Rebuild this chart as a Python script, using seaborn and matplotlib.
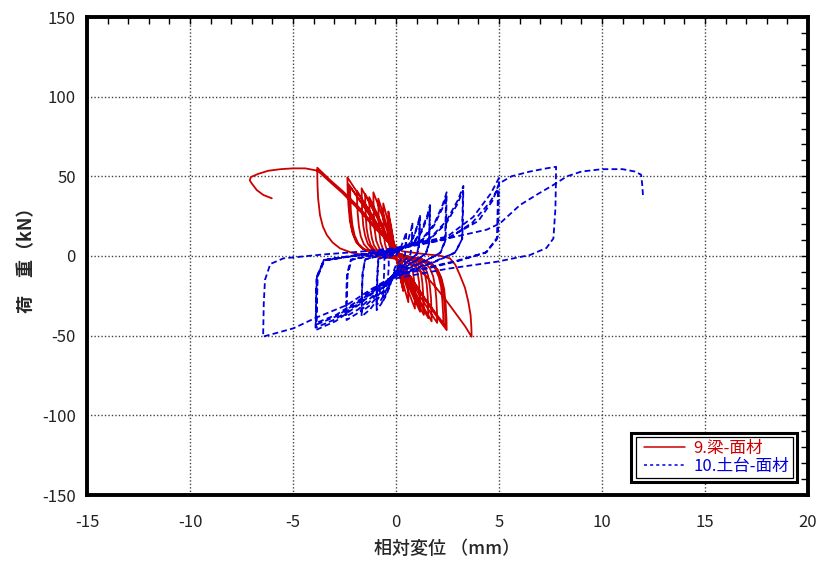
import matplotlib
matplotlib.use("Agg")
import matplotlib.pyplot as plt
from matplotlib.patches import Rectangle
from matplotlib.ticker import MultipleLocator
from matplotlib.lines import Line2D
import seaborn as sns
import pandas as pd

# ---- 9.梁-面材 : relative displacement (mm), load (kN) ----
red_stage1 = [
    (0.0, 0.0), (0.05, 3), (-0.11, 8.4), (-0.22, 17.4), (-0.31, 23.5), (-0.37, 28),
    (-0.37, 22.4), (-0.36, 13.2), (-0.32, 6.7), (-0.26, 2.5), (-0.15, 0.6), (0.0, -1),
    (0.11, -6.6), (0.21, -13.6), (0.29, -18.5), (0.35, -22),
    (0.35, -17.6), (0.34, -10.3), (0.3, -5.3), (0.25, -2), (0.14, -0.4), (0.05, 2),
    (-0.1, 7.5), (-0.21, 15.5), (-0.29, 21), (-0.35, 25),
    (-0.35, 20), (-0.34, 11.8), (-0.3, 6), (-0.25, 2.3), (-0.14, 0.5), (0.0, -1),
    (0.1, -6), (0.2, -12.4), (0.27, -16.8), (0.33, -20),
    (0.33, -16), (0.32, -9.4), (0.29, -4.8), (0.23, -1.8), (0.13, -0.4), (0.05, 2),
    (-0.19, 9.9), (-0.37, 20.5), (-0.51, 27.7), (-0.62, 33),
    (-0.61, 26.4), (-0.6, 15.5), (-0.54, 7.9), (-0.43, 3), (-0.25, 0.7), (0.0, -1),
    (0.18, -8.7), (0.36, -18), (0.5, -24.4), (0.6, -29),
    (0.59, -23.2), (0.58, -13.6), (0.52, -7), (0.42, -2.6), (0.24, -0.6), (0.05, 2),
    (-0.26, 10.8), (-0.52, 22.3), (-0.71, 30.2), (-0.86, 36),
    (-0.85, 28.8), (-0.83, 16.9), (-0.75, 8.6), (-0.6, 3.2), (-0.34, 0.7), (0.0, -1),
    (0.28, -9.9), (0.55, -20.5), (0.76, -27.7), (0.92, -33),
    (0.91, -26.4), (0.88, -15.5), (0.8, -7.9), (0.64, -3), (0.37, -0.7), (0.05, 2),
    (-0.33, 12), (-0.66, 24.8), (-0.91, 33.6), (-1.1, 40),
    (-1.09, 32), (-1.06, 18.8), (-0.96, 9.6), (-0.77, 3.6), (-0.44, 0.8), (0.0, -1),
    (0.35, -10.5), (0.7, -21.7), (0.97, -29.4), (1.17, -35),
    (1.16, -28), (1.12, -16.5), (1.02, -8.4), (0.82, -3.2), (0.47, -0.7), (0.05, 2),
]
red_stage2 = [
    (-0.39, 11.1), (-0.78, 22.9), (-1.08, 31.1), (-1.3, 37),
    (-1.29, 31.5), (-1.27, 24.1), (-1.24, 16.7), (-1.17, 11.1), (-1.07, 6.7),
    (-0.91, 3.7), (-0.65, 1.5), (-0.33, 0.4), (0.0, -1),
    (0.41, -11.1), (0.81, -22.9), (1.12, -31.1), (1.35, -37),
    (1.34, -31.5), (1.32, -24.1), (1.28, -16.7), (1.22, -11.1), (1.11, -6.7),
    (0.95, -3.7), (0.68, -1.5), (0.34, -0.4), (0.05, 2),
    (-0.45, 11.7), (-0.9, 24.2), (-1.25, 32.8), (-1.5, 39),
    (-1.49, 33.2), (-1.47, 25.4), (-1.43, 17.6), (-1.35, 11.7), (-1.23, 7),
    (-1.05, 3.9), (-0.75, 1.6), (-0.38, 0.4), (0.0, -1),
    (0.47, -11.7), (0.94, -24.2), (1.3, -32.8), (1.57, -39),
    (1.56, -33.2), (1.54, -25.4), (1.49, -17.6), (1.41, -11.7), (1.29, -7),
    (1.1, -3.9), (0.79, -1.6), (0.39, -0.4), (0.05, 2),
    (-0.5, 12.8), (-1.0, 26.4), (-1.39, 35.7), (-1.67, 42.5),
    (-1.66, 36.1), (-1.64, 27.6), (-1.59, 19.1), (-1.5, 12.8), (-1.37, 7.7),
    (-1.17, 4.3), (-0.84, 1.7), (-0.42, 0.4), (0.0, -1),
    (0.52, -12.3), (1.04, -25.4), (1.44, -34.4), (1.73, -41),
    (1.72, -34.9), (1.7, -26.7), (1.64, -18.5), (1.56, -12.3), (1.42, -7.4),
    (1.21, -4.1), (0.87, -1.6), (0.43, -0.4), (0.05, 2),
    (-0.57, 12.3), (-1.14, 25.4), (-1.58, 34.4), (-1.9, 41),
    (-1.89, 34.9), (-1.86, 26.7), (-1.8, 18.5), (-1.71, 12.3), (-1.56, 7.4),
    (-1.33, 4.1), (-0.95, 1.6), (-0.48, 0.4), (0.0, -1),
    (0.6, -12.6), (1.2, -26), (1.66, -35.3), (2.0, -42),
    (1.99, -35.7), (1.96, -27.3), (1.9, -18.9), (1.8, -12.6), (1.64, -7.6),
    (1.4, -4.2), (1.0, -1.7), (0.5, -0.4), (0.05, 2),
]
red_stage3 = [
    (-0.67, 13), (-1.34, 27), (-1.85, 36.5), (-2.23, 43.5),
    (-2.22, 37), (-2.19, 28.3), (-2.12, 19.6), (-2.01, 13), (-1.83, 7.8),
    (-1.56, 4.4), (-1.12, 1.7), (-0.56, 0.4), (0.0, -1),
    (0.69, -12.9), (1.38, -26.7), (1.91, -36.1), (2.3, -43),
    (2.29, -36.6), (2.25, -28), (2.19, -19.4), (2.07, -12.9), (1.89, -7.7),
    (1.61, -4.3), (1.15, -1.7), (0.58, -0.4), (0.05, 2),
    (-0.71, 14.8), (-1.42, 30.6), (-1.96, 41.5), (-2.36, 49.4),
    (-2.35, 42), (-2.31, 32.1), (-2.24, 22.2), (-2.12, 14.8), (-1.94, 8.9),
    (-1.65, 4.9), (-1.18, 2), (-0.59, 0.5), (0.0, -1),
    (0.74, -14), (1.48, -28.8), (2.04, -39.1), (2.46, -46.5),
    (2.45, -39.5), (2.41, -30.2), (2.34, -20.9), (2.21, -14), (2.02, -8.4),
    (1.72, -4.7), (1.23, -1.9), (0.62, -0.5), (0.05, 2),
    (-0.69, 13.5), (-1.38, 27.9), (-1.91, 37.8), (-2.3, 45),
    (-2.29, 38.3), (-2.25, 29.3), (-2.19, 20.3), (-2.07, 13.5), (-1.89, 8.1),
    (-1.61, 4.5), (-1.15, 1.8), (-0.58, 0.5), (0.0, -1),
    (0.72, -13.2), (1.44, -27.3), (1.99, -37), (2.4, -44),
    (2.39, -37.4), (2.35, -28.6), (2.28, -19.8), (2.16, -13.2), (1.97, -7.9),
    (1.68, -4.4), (1.2, -1.8), (0.6, -0.4), (0.05, 2),
]
red_stage4 = [
    (-0.29, 9), (-0.94, 17.4), (-1.75, 29.9), (-2.56, 40.4), (-3.2, 47.7),
    (-3.55, 52), (-3.82, 55.4),
    (-3.82, 50), (-3.81, 44), (-3.78, 36), (-3.69, 25.7), (-3.55, 18.5),
    (-3.36, 13.2), (-3.08, 8.5), (-2.72, 4.8), (-2.2, 2.3), (-1.59, 0.6),
    (-0.8, -0.6), (-0.13, -1.5),
    (0.84, -5.6), (1.45, -12.5), (1.97, -20.3), (2.5, -29), (2.95, -37),
    (3.35, -44), (3.67, -50.7),
    (3.66, -45), (3.62, -37), (3.51, -28.7), (3.35, -20), (3.1, -11.9),
    (2.88, -5.5), (2.62, -1.5), (2.1, 0.3), (1.5, 1), (0.3, 3),
    (-0.3, 9), (-1.0, 17), (-1.8, 29), (-2.6, 39.5), (-3.25, 47), (-3.8, 53.5),
    (-4.4, 55), (-5.0, 55), (-5.6, 54.5), (-6.2, 53.5), (-6.7, 51.5),
    (-7.05, 49.5), (-7.1, 47.5), (-7.0, 45.5), (-6.76, 41.4), (-6.44, 38.3), (-6.03, 36.2),
]

# ---- 10.土台-面材 : relative displacement (mm), load (kN) ----
blue_stage1 = [
    (0.0, 0.0), (0.25, 6), (0.4, 11), (0.5, 15),
    (0.48, 9.8), (0.45, 3.8), (0.44, 0.8), (0.3, -1.4), (0.0, -5.6),
    (-0.08, -8.4), (-0.18, -13), (-0.3, -17.6), (-0.4, -20),
    (-0.38, -12), (-0.35, -6), (-0.36, -1.2), (-0.12, 0.8), (0.0, 2.1),
    (0.4, 5.3), (0.6, 10.5), (0.74, 16.8), (0.8, 21),
    (0.78, 13.7), (0.75, 5.3), (0.7, 1), (0.48, -2), (0.0, -7.8),
    (-0.12, -11.8), (-0.28, -18.2), (-0.47, -24.6), (-0.62, -28),
    (-0.6, -16.8), (-0.57, -8.4), (-0.56, -1.7), (-0.19, 1), (0.0, 2.6),
    (0.59, 6.5), (0.88, 13), (1.08, 20.8), (1.17, 26),
    (1.15, 16.9), (1.12, 6.5), (1.03, 1.3), (0.7, -2.4), (0.0, -9.5),
    (-0.19, -14.3), (-0.42, -22.1), (-0.71, -29.9), (-0.94, -34),
    (-0.92, -20.4), (-0.89, -10.2), (-0.85, -2), (-0.28, 1), (0.0, 2.4),
    (0.58, 6), (0.86, 12), (1.06, 19.2), (1.15, 24),
    (1.13, 15.6), (1.1, 6), (1.01, 1.2), (0.69, -2.2), (0.0, -8.7),
    (-0.19, -13), (-0.43, -20.2), (-0.71, -27.3), (-0.95, -31),
]
blue_stage2 = [
    (-0.93, -18.6), (-0.9, -9.3), (-0.86, -1.9), (-0.29, 1.3), (0.0, 3.2),
    (0.83, 8), (1.24, 16), (1.52, 25.6), (1.65, 32),
    (1.63, 20.8), (1.6, 8), (1.45, 1.6), (0.99, -2.7), (0.0, -10.6),
    (-0.33, -16), (-0.75, -24.7), (-1.25, -33.4), (-1.67, -38),
    (-1.65, -22.8), (-1.62, -11.4), (-1.5, -2.3), (-0.5, 1.2), (0.0, 3),
    (0.83, 7.5), (1.24, 15), (1.52, 24), (1.65, 30),
    (1.63, 19.5), (1.6, 7.5), (1.45, 1.5), (0.99, -2.5), (0.0, -9.8),
    (-0.33, -14.7), (-0.75, -22.8), (-1.25, -30.8), (-1.67, -35),
    (-1.65, -21), (-1.62, -10.5), (-1.5, -2.1), (-0.5, 1.6), (0.0, 4),
    (1.23, 10), (1.85, 20), (2.26, 32), (2.46, 40),
    (2.44, 26), (2.41, 10), (2.16, 2), (1.48, -2.8), (0.0, -11.3),
    (-0.48, -16.9), (-1.08, -26.1), (-1.8, -35.4), (-2.4, -40.2),
    (-2.38, -24.1), (-2.35, -12.1), (-2.16, -2.4), (-0.72, 1.5), (0.0, 3.7),
    (1.22, 9.3), (1.82, 18.5), (2.24, 29.6), (2.43, 37),
    (2.41, 24), (2.38, 9.3), (2.14, 1.9), (1.46, -2.7), (0.0, -10.6),
    (-0.49, -16), (-1.09, -24.7), (-1.82, -33.4), (-2.43, -38),
]
blue_stage3 = [
    (-2.41, -22.8), (-2.38, -11.4), (-2.19, -2.3), (-0.73, 1.8), (0.0, 4.4),
    (1.64, 11), (2.45, 22), (3.01, 35.2), (3.27, 44),
    (3.25, 28.6), (3.22, 11), (2.88, 2.2), (1.96, -3.3), (0.0, -13),
    (-0.78, -19.5), (-1.76, -30.2), (-2.93, -40.9), (-3.9, -46.5),
    (-3.88, -27.9), (-3.85, -14), (-3.51, -2.8), (-1.17, 1.6), (0.0, 4.1),
    (1.63, 10.3), (2.44, 20.5), (2.99, 32.8), (3.25, 41),
    (3.23, 26.7), (3.2, 10.3), (2.86, 2.1), (1.95, -3), (0.0, -12),
    (-0.77, -18.1), (-1.73, -28), (-2.89, -37.8), (-3.85, -43),
    (-3.83, -25.8), (-3.8, -12.9), (-3.47, -2.6), (-1.16, 2), (0.0, 4.9),
    (2.5, 12.3), (3.75, 24.5), (4.6, 39.2), (5.0, 49),
    (4.98, 31.9), (4.95, 12.3), (4.4, 2.5), (3.0, -3.2), (0.0, -12.6),
    (-0.78, -18.9), (-1.76, -29.3), (-2.93, -39.6), (-3.9, -45),
    (-3.88, -27), (-3.85, -13.5), (-3.51, -2.7), (-1.17, 1.7), (0.0, 4.2),
    (2.48, 10.5), (3.71, 21), (4.55, 33.6), (4.95, 42),
    (4.93, 27.3), (4.9, 10.5), (4.36, 2.1), (2.97, -2.9), (0.0, -11.8),
    (-0.78, -17.6), (-1.75, -27.3), (-2.91, -37), (-3.88, -42),
]
blue_stage4 = [
    (-3.86, -25.2), (-3.83, -12.6), (-3.49, -2.5), (-1.16, 2), (0.0, 4.5),
    (2.5, 11), (4.0, 22), (4.7, 35), (5.0, 45.5), (5.6, 50), (6.5, 53),
    (7.3, 55), (7.77, 56),
    (7.76, 45), (7.74, 30), (7.64, 11), (7.3, 5), (6.5, 0.6), (4.89, -3.6),
    (2.5, -8), (0.0, -14), (-1.1, -20), (-2.39, -30.8), (-3.93, -39),
    (-4.98, -45.4), (-6.45, -50.6),
    (-6.42, -30), (-6.36, -15), (-6.1, -5), (-5.47, -1.5), (-3.5, 1),
    (-1.75, 2.7), (0.0, 5), (2.5, 11), (4.4, 16.5), (5.05, 20.5), (6.02, 32),
    (6.9, 39), (7.64, 44.6), (8.3, 50), (9.0, 53), (10.0, 54.5), (11.0, 54.5),
    (11.6, 53), (11.9, 51), (11.95, 45), (12.0, 36.2),
]

x_ticks = [-15, -10, -5, 0, 5, 10, 15, 20]
y_ticks = [-150, -100, -50, 0, 50, 100, 150]
red_label = "9.梁-面材"
blue_label = "10.土台-面材"
x_title = "相対変位 （mm）"
y_title = "荷　重（kN）"

RED = "#CC0000"
BLUE = "#0000DD"


def to_frame(*stages):
    pts = [p for s in stages for p in s]
    return pd.DataFrame({"disp": [p[0] for p in pts],
                         "load": [p[1] for p in pts],
                         "step": range(len(pts))})


red_df = to_frame(red_stage1, red_stage2, red_stage3, red_stage4)
blue_df = to_frame(blue_stage1, blue_stage2, blue_stage3, blue_stage4)

sns.set_style("white")
plt.rcParams["font.family"] = ["Noto Sans CJK JP", "DejaVu Sans"]
plt.rcParams["axes.unicode_minus"] = False

fig = plt.figure(figsize=(8.25, 5.61), dpi=100)
ax = fig.add_axes([87 / 825, 1 - 495 / 561, 721 / 825, 478 / 561])

sns.lineplot(data=red_df, x="disp", y="load", sort=False, estimator=None,
             color=RED, linewidth=1.3, ax=ax, zorder=3)
sns.lineplot(data=blue_df, x="disp", y="load", sort=False, estimator=None,
             color=BLUE, linewidth=1.3, linestyle=(0, (3.2, 1.8)), ax=ax, zorder=4)

ax.set_xlim(-15, 20)
ax.set_ylim(-150, 150)
ax.set_xticks(x_ticks)
ax.set_yticks(y_ticks)
ax.xaxis.set_minor_locator(MultipleLocator(1))
ax.yaxis.set_minor_locator(MultipleLocator(10))
ax.tick_params(which="both", direction="in", top=True, right=True,
               labelsize=12, colors="black", labelcolor="#222222")
ax.tick_params(which="major", length=5, width=1)
ax.tick_params(which="minor", length=5, width=1)
ax.tick_params(axis="x", which="major", pad=14)
ax.tick_params(axis="y", which="major", pad=8)
ax.grid(True, which="major", linestyle=(0, (1, 1.5)), color="#444444", linewidth=1)
for sp in ax.spines.values():
    sp.set_linewidth(2.8)
    sp.set_color("black")

ax.set_xlabel(x_title, fontsize=13, fontweight="medium", labelpad=6)
ax.set_ylabel(y_title, fontsize=13, fontweight="bold", labelpad=4)

# legend with a double frame
x0, y0, w, h = 0.755, 0.027, 0.230, 0.103
ax.add_patch(Rectangle((x0, y0), w, h, transform=ax.transAxes, fill=True,
                       facecolor="white", edgecolor="black", linewidth=2.2, zorder=6))
ax.add_patch(Rectangle((x0 + 0.006, y0 + 0.009), w - 0.012, h - 0.018,
                       transform=ax.transAxes, fill=False, edgecolor="black",
                       linewidth=0.9, zorder=7))
handles = [Line2D([], [], color=RED, linewidth=1.1),
           Line2D([], [], color=BLUE, linewidth=1.1, linestyle=(0, (2, 2)))]
leg = ax.legend(handles, [red_label, blue_label], loc="center left",
                bbox_to_anchor=(0.772, y0 + h / 2), frameon=False,
                fontsize=12, handlelength=2.5, handletextpad=0.5,
                labelspacing=0.1, borderaxespad=0, borderpad=0)
leg.set_zorder(8)
for txt, c in zip(leg.get_texts(), [RED, BLUE]):
    txt.set_color(c)

fig.savefig("out.png", dpi=100)
